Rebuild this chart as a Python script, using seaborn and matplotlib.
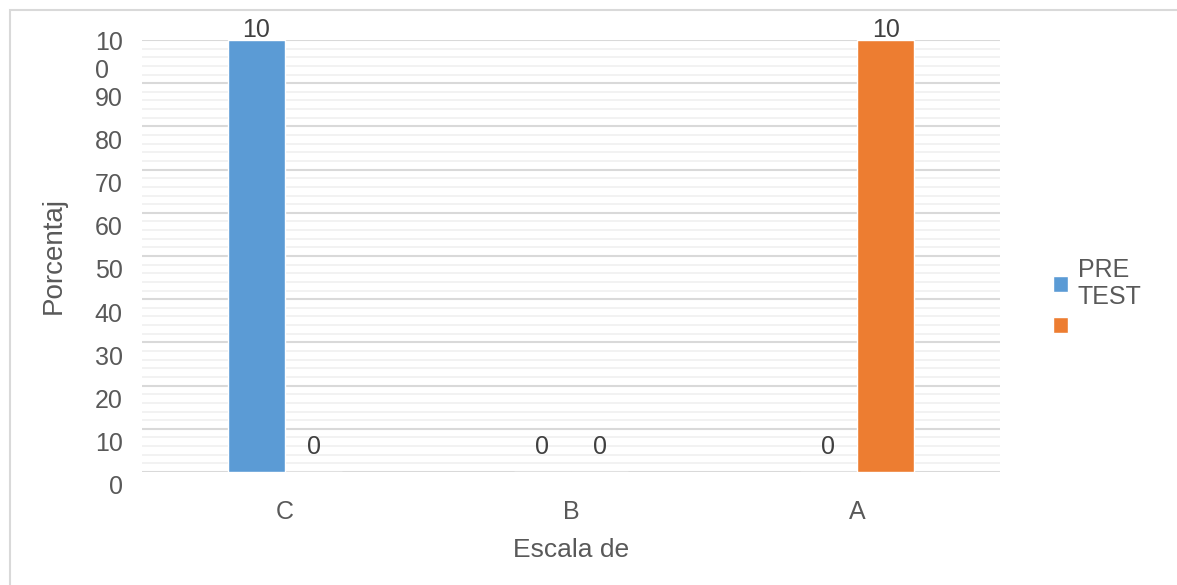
import pandas as pd
import matplotlib.pyplot as plt
import matplotlib.transforms as mtransforms
import seaborn as sns
from matplotlib.patches import Rectangle

# datos del grafico
escalas = ["C", "B", "A"]
pre_test = [100, 0, 0]
post_test = [0, 0, 100]
etiquetas_pre = ["10", "0", "0"]
etiquetas_post = ["0", "0", "10"]
ticks_y = [0, 10, 20, 30, 40, 50, 60, 70, 80, 90, 100]
ticks_y_texto = ["0", "10", "20", "30", "40", "50", "60", "70", "80", "90", "10\n0"]

df = pd.DataFrame({
    "escala": escalas * 2,
    "grupo": ["PRE TEST"] * 3 + ["POST TEST"] * 3,
    "porcentaje": pre_test + post_test,
})

sns.set_theme(style="white")
plt.rcParams["font.family"] = ["Liberation Sans", "DejaVu Sans"]
gris = "#595959"

fig = plt.figure(figsize=(11.77, 5.85), dpi=100)
# marco exterior
fig.patches.append(Rectangle((10 / 1177, -0.01), 1.0, 1 - 10 / 585 + 0.01,
                             transform=fig.transFigure, fill=False,
                             edgecolor="#d9d9d9", linewidth=1.5))

ax = fig.add_axes([142 / 1177, 1 - 472 / 585, 858 / 1177, 432 / 585])

sns.barplot(data=df, x="escala", y="porcentaje", hue="grupo", order=escalas,
            hue_order=["PRE TEST", "POST TEST"], palette=["#5b9bd5", "#ed7d31"],
            width=0.4, saturation=1, ax=ax, zorder=3)

ax.set_ylim(0, 100)
ax.set_xlim(-0.5, 2.5)

# rejilla mayor y menor
for v in range(0, 101, 2):
    mayor = v % 10 == 0
    ax.axhline(v, color="#d9d9d9" if mayor else "#f0f0f0",
               linewidth=1.5 if mayor else 1.2, zorder=1)

for sp in ax.spines.values():
    sp.set_visible(False)

ax.set_yticks(ticks_y)
ax.set_yticklabels(ticks_y_texto, fontsize=18, color=gris)
ax.tick_params(axis="y", length=0, pad=14)
ax.tick_params(axis="x", length=0, pad=20, labelsize=18, labelcolor=gris)
desplaza = mtransforms.ScaledTranslation(0, -13 / 100, fig.dpi_scale_trans)
for lbl in ax.get_yticklabels():
    lbl.set_transform(lbl.get_transform() + desplaza)
    lbl.set_multialignment("left")

ax.set_ylabel("Porcentaj", fontsize=20, color=gris, labelpad=20)
ax.set_xlabel("Escala de", fontsize=19, color=gris, labelpad=10)

# etiquetas de datos
for cont, textos in zip(ax.containers, [etiquetas_pre, etiquetas_post]):
    for barra, txt in zip(cont, textos):
        alto = barra.get_height()
        dy = 10 if alto > 0 else 25
        ax.annotate(txt, (barra.get_x() + barra.get_width() / 2, alto),
                    xytext=(0, dy), textcoords="offset pixels",
                    ha="center", va="center", fontsize=18, color="#404040",
                    annotation_clip=False, zorder=4)

handles, _ = ax.get_legend_handles_labels()
ax.legend(handles, ["PRE\nTEST", ""], loc="center left",
          bbox_to_anchor=(1030 / 1177, 1 - 298 / 585),
          bbox_transform=fig.transFigure, frameon=False, fontsize=18,
          handlelength=0.6, handleheight=0.6, handletextpad=0.4,
          labelspacing=0.2, labelcolor=gris)

fig.savefig("out.png", dpi=100)
